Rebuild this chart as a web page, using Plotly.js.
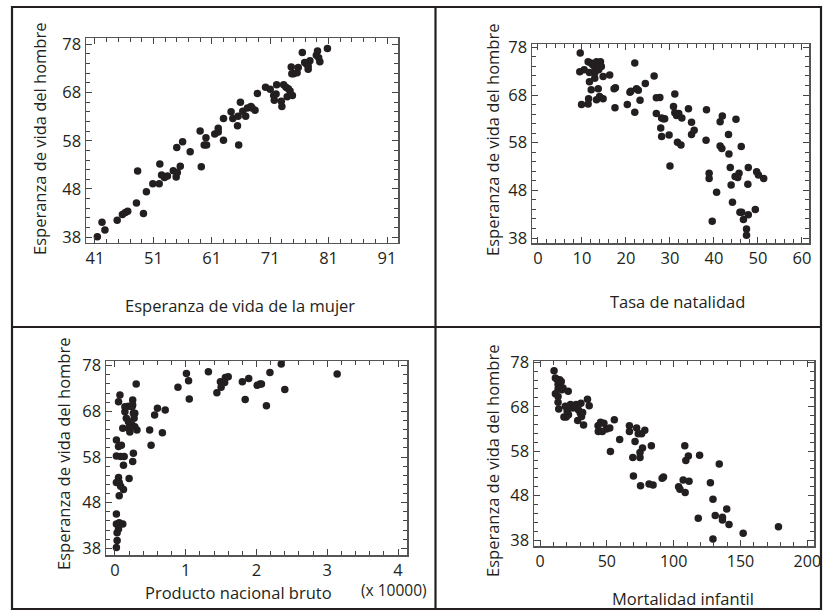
<!DOCTYPE html>
<html>
<head>
<meta charset="utf-8">
<script src="https://cdn.plot.ly/plotly-3.0.1.min.js"></script>
<style>html,body{margin:0;padding:0;background:#fff;}#chart{width:823px;height:611px;}</style>
</head>
<body>
<div id="chart"></div>
<script>
// Panel 1: Esperanza de vida de la mujer vs hombre
const mujerX = [41.4,42.2,42.7,44.8,45.7,46.2,46.6,48.1,49.3,48.3,49.8,50.9,52.0,52.1,52.4,52.9,53.4,54.4,54.9,55.1,55.0,55.6,56.0,57.3,59.0,59.2,59.7,60.1,60.0,61.5,62.1,62.1,63.0,63.0,64.3,64.6,65.4,65.5,65.6,65.9,66.3,66.8,67.1,67.7,67.9,68.4,68.8,70.2,71.0,71.6,71.7,72.0,72.1,72.9,73.0,73.3,73.7,73.9,74.1,74.4,74.7,74.6,74.8,75.0,75.6,75.8,76.5,76.9,77.2,77.5,77.8,77.5,78.9,79.1,79.3,79.5,80.8];
const hombreY1 = [38.1,41.1,39.5,41.5,42.7,43.1,43.4,45.1,42.9,51.7,47.4,49.1,49.1,53.2,50.9,50.4,50.7,51.8,50.5,51.4,56.6,52.7,57.8,55.7,60.0,52.6,57.1,57.1,58.6,59.4,60.6,59.8,58.1,62.6,64.0,62.6,61.1,63.1,57.1,66.0,64.1,63.1,64.8,65.1,64.8,64.3,67.8,69.1,68.7,67.4,66.4,67.7,69.6,66.2,65.1,69.6,69.1,67.1,68.8,68.3,71.9,73.3,67.4,71.9,72.1,73.2,76.3,74.2,73.9,72.8,74.6,73.5,75.7,76.6,75.2,74.4,77.1];

// Panel 2: Tasa de natalidad
const natalidadX = [9.6,9.5,9.9,10.5,11.4,11.7,11.5,11.4,12.0,12.5,11.7,12.1,12.9,13.0,13.3,12.9,13.3,13.7,13.8,14.2,14.4,14.0,14.8,14.8,16.3,17.3,17.5,17.6,20.3,20.9,21.1,22.0,22.0,22.4,22.8,23.2,24.4,26.4,26.9,26.9,27.7,27.9,28.1,28.5,28.1,28.8,29.8,30.0,30.8,31.1,31.1,31.5,32.0,31.7,32.5,32.7,34.2,34.9,34.9,35.5,38.3,38.2,38.9,38.9,39.6,40.6,41.4,41.8,41.4,41.9,43.3,43.4,43.7,43.9,44.2,45.0,44.8,45.4,45.7,46.2,45.9,46.3,46.7,47.4,47.4,47.8,47.7,47.8,49.4,49.7,50.1,51.3];
const hombreY2 = [76.8,72.9,66.0,73.3,75.0,72.7,67.2,66.1,74.7,74.3,70.8,69.1,72.6,73.6,75.0,71.5,67.0,69.3,73.3,75.0,74.0,67.7,67.2,71.9,72.2,69.3,65.3,69.5,66.0,68.6,68.8,74.7,64.4,69.3,69.0,66.9,70.4,72.0,64.1,67.4,67.5,61.1,63.2,63.0,59.3,63.0,59.6,53.1,65.6,68.2,64.3,63.7,64.1,58.1,57.5,63.2,65.1,62.3,59.7,60.6,64.9,58.5,51.6,50.5,41.5,47.6,57.3,56.8,62.4,63.6,59.7,55.6,52.8,49.1,45.5,62.9,50.9,50.7,51.6,57.2,43.4,43.4,41.9,39.9,38.6,52.8,49.3,42.9,44.0,51.9,51.2,50.5];

// Panel 3: Producto nacional bruto (x 10000)
const pnbX = [0.02,0.03,0.03,0.05,0.02,0.02,0.06,0.11,0.06,0.02,0.05,0.06,0.08,0.12,0.02,0.08,0.13,0.05,0.09,0.02,0.12,0.05,0.07,0.14,0.16,0.11,0.19,0.19,0.20,0.21,0.24,0.25,0.25,0.26,0.26,0.25,0.28,0.28,0.27,0.31,0.30,0.24,0.14,0.19,0.49,0.51,0.56,0.60,0.67,0.71,0.89,1.01,1.04,1.05,1.32,1.44,1.49,1.50,1.56,1.60,1.55,1.80,1.84,1.89,2.01,2.05,2.07,2.14,2.19,2.35,2.40,3.14];
const hombreY3 = [38.2,39.7,41.4,42.2,43.3,45.5,43.6,43.3,49.5,52.4,53.5,52.4,51.6,50.9,58.2,58.1,58.1,60.3,60.6,61.7,56.2,70.1,71.6,67.9,66.5,64.3,64.3,69.1,53.3,63.5,65.0,70.5,69.4,67.6,58.8,57.0,67.6,64.6,66.5,63.9,74.0,69.0,69.0,65.7,63.9,60.6,67.2,68.7,63.3,68.3,73.3,76.3,74.7,70.7,76.7,72.1,74.5,73.3,75.4,75.6,74.3,74.5,70.6,75.2,73.7,74.0,74.0,69.2,76.5,78.4,72.8,76.2];

// Panel 4: Mortalidad infantil
const mortalidadX = [10.5,11.5,11.5,13.0,13.5,13.5,13.5,13.5,14.0,14.7,15.4,16.4,17.2,15.9,17.9,19.6,18.9,21.1,20.3,21.3,22.8,24.5,25.7,27.0,28.2,28.7,30.1,30.6,31.1,31.9,32.6,35.5,36.8,43.4,43.6,45.3,46.6,47.8,49.8,52.2,52.7,55.6,59.6,66.9,66.9,69.4,69.9,71.1,72.3,73.5,74.8,74.8,75.2,76.0,76.7,78.4,81.6,84.6,83.3,91.4,92.4,103.7,104.7,107.1,108.6,108.3,109.1,111.0,111.5,119.4,118.4,127.5,129.4,131.1,134.1,136.5,136.5,139.7,141.4,129.4,152.0,178.4];
const hombreY4 = [76.1,74.5,70.9,74.1,73.0,72.0,70.3,69.0,67.5,74.1,72.4,71.8,72.2,73.7,65.7,65.7,68.1,71.5,67.0,66.2,68.5,67.7,68.1,68.5,64.9,67.3,66.6,68.8,65.8,66.7,63.9,69.7,68.2,63.7,62.4,64.5,62.4,64.3,63.0,63.2,57.9,65.1,60.6,63.7,62.4,56.6,52.4,60.2,63.2,61.9,57.7,56.6,50.2,61.9,58.7,62.7,50.6,50.4,59.2,51.9,52.2,50.0,49.4,51.5,48.7,59.2,55.9,56.9,51.2,57.1,42.9,50.9,47.2,43.5,55.1,43.1,42.5,45.0,41.5,38.2,39.5,41.0];

// Labels
const yTitle = "Esperanza de vida del hombre";
const xTitles = ["Esperanza de vida de la mujer", "Tasa de natalidad", "Producto nacional bruto", "Mortalidad infantil"];
const scaleNote = "(x 10000)";

const W = 823, H = 611;
const PX = p => p / W;
const PY = p => 1 - p / H;
const INK = '#231f20';
const FONT = 'Open Sans, Noto Sans, sans-serif';

function mk(x, y, n) {
  return {x: x, y: y, type: 'scatter', mode: 'markers',
    xaxis: 'x' + (n === 1 ? '' : n), yaxis: 'y' + (n === 1 ? '' : n),
    marker: {size: 7.5, color: INK}, hoverinfo: 'x+y', showlegend: false, cliponaxis: false};
}

function axisX(box, range, tick0, dtick, minor, anchor, fsize) {
  return {domain: [PX(box[0]), PX(box[1])], range: range, anchor: anchor,
    tick0: tick0, dtick: dtick, ticks: 'inside', ticklen: 6, tickwidth: 1, tickcolor: '#444',
    minor: {ticks: 'inside', ticklen: 4, tickwidth: 1, tickcolor: '#444', dtick: minor, tick0: tick0, showgrid: false},
    showline: true, linecolor: '#555', linewidth: 1.5, mirror: 'allticks',
    showgrid: false, zeroline: false, ticklabeloverflow: 'allow',
    tickfont: {family: FONT, size: fsize || 16.5, color: INK}};
}
function axisY(box, range, anchor) {
  return {domain: [PY(box[1]), PY(box[0])], range: range, anchor: anchor,
    tick0: 38, dtick: 10, ticks: 'inside', ticklen: 6, tickwidth: 1, tickcolor: '#444',
    minor: {ticks: 'inside', ticklen: 4, tickwidth: 1, tickcolor: '#444', dtick: 2, tick0: 38, showgrid: false},
    showline: true, linecolor: '#555', linewidth: 1.5, mirror: 'allticks',
    showgrid: false, zeroline: false, ticklabeloverflow: 'allow',
    tickfont: {family: FONT, size: 16.5, color: INK}};
}

const data = [mk(mujerX, hombreY1, 1), mk(natalidadX, hombreY2, 2), mk(pnbX, hombreY3, 3), mk(mortalidadX, hombreY4, 4)];

function ann(text, x, y, angle, anchor, size) {
  return {text: text, xref: 'paper', yref: 'paper', x: PX(x), y: PY(y), showarrow: false,
    xanchor: anchor || 'center', yanchor: 'middle', textangle: angle || 0,
    font: {family: FONT, size: size || 16.5, color: INK}};
}

const layout = {
  width: W, height: H, margin: {l: 0, r: 0, t: 0, b: 0},
  paper_bgcolor: '#fff', plot_bgcolor: '#fff', showlegend: false,
  xaxis: axisX([86, 398], [39.46, 92.88], 41, 10, 2, 'y'),
  yaxis: axisY([38, 242.5], [36.9, 79.3], 'x'),
  xaxis2: axisX([532, 809], [-1.36, 61.6], 0, 10, 2, 'y2'),
  yaxis2: axisY([44, 243], [36.95, 78.7], 'x2'),
  xaxis3: axisX([106, 407], [-0.127, 4.127], 0, 1, 0.2, 'y3'),
  yaxis3: axisY([361, 555], [36.53, 79.03], 'x3'),
  xaxis4: axisX([534, 814], [-4.5, 205], 0, 50, 10, 'y4', 16),
  yaxis4: axisY([361, 546], [36.65, 78.3], 'x4'),
  annotations: [
    ann(yTitle, 39, 139, -90), ann(yTitle, 492, 140, -90),
    ann(yTitle, 63, 454, -90), ann(yTitle, 492, 461, -90),
    ann(xTitles[0], 240, 305), ann(xTitles[1], 677, 302),
    ann(xTitles[2], 238, 592), ann(xTitles[3], 683, 598),
    ann(scaleNote, 359, 590, 0, 'left', 15.5)
  ],
  shapes: [
    {type: 'rect', xref: 'paper', yref: 'paper', x0: PX(12), x1: PX(821), y0: PY(609), y1: PY(7), line: {color: INK, width: 2.2}},
    {type: 'line', xref: 'paper', yref: 'paper', x0: PX(435.5), x1: PX(435.5), y0: PY(609), y1: PY(7), line: {color: INK, width: 2.2}},
    {type: 'line', xref: 'paper', yref: 'paper', x0: PX(12), x1: PX(821), y0: PY(327), y1: PY(327), line: {color: INK, width: 2.2}}
  ]
};

Plotly.newPlot('chart', data, layout, {staticPlot: true, displayModeBar: false});
</script>
</body>
</html>
